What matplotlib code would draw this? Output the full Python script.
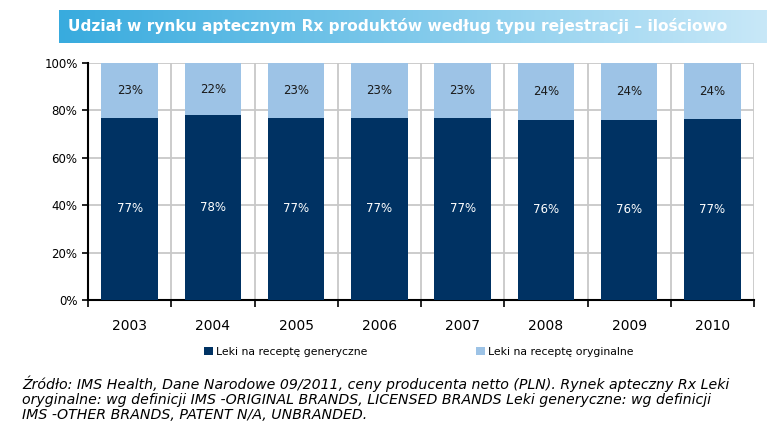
import numpy as np
import matplotlib.pyplot as plt
from matplotlib.ticker import FuncFormatter

years = ['2003', '2004', '2005', '2006', '2007', '2008', '2009', '2010']
generic = [77, 78, 77, 77, 77, 76, 76, 77]
original = [23, 22, 23, 23, 23, 24, 24, 24]

title = 'Udział w rynku aptecznym Rx produktów według typu rejestracji – ilościowo'
note = ('Źródło: IMS Health, Dane Narodowe 09/2011, ceny producenta netto (PLN). Rynek apteczny Rx Leki\n'
        'oryginalne: wg definicji IMS -ORIGINAL BRANDS, LICENSED BRANDS Leki generyczne: wg definicji\n'
        'IMS -OTHER BRANDS, PATENT N/A, UNBRANDED.')

dark = '#003263'
light = '#9dc3e6'

gen = np.array(generic, dtype=float)
orig = np.array(original, dtype=float)
total = gen + orig
gen_pct = gen / total * 100
orig_pct = orig / total * 100

fig = plt.figure(figsize=(7.67, 4.25), dpi=100)

# title banner with gradient
bax = fig.add_axes([59 / 767, 1 - 43 / 425, 1 - 59 / 767, 33 / 425])
grad = np.linspace(0, 1, 256).reshape(1, -1)
c0 = np.array([0x38, 0xab, 0xde]) / 255
c1 = np.array([0xc8, 0xe8, 0xf8]) / 255
img = c0[None, None, :] * (1 - grad[..., None]) + c1[None, None, :] * grad[..., None]
bax.imshow(img, aspect='auto', extent=[0, 1, 0, 1])
bax.set_axis_off()
bax.text(9 / 708, 0.5, title, color='white', fontsize=11.1, fontweight='bold',
         ha='left', va='center', transform=bax.transAxes)

ax = fig.add_axes([88 / 767, 1 - 300 / 425, (754 - 88) / 767, 237 / 425])
x = np.arange(len(years))
w = 0.68
ax.bar(x, gen_pct, w, color=dark, zorder=3, label='Leki na receptę generyczne')
ax.bar(x, orig_pct, w, bottom=gen_pct, color=light, zorder=3, label='Leki na receptę oryginalne')

for i in range(len(years)):
    ax.text(x[i], gen_pct[i] / 2, f'{generic[i]}%', color='white', ha='center', va='center',
            fontsize=8.5, zorder=4)
    ax.text(x[i], gen_pct[i] + orig_pct[i] / 2, f'{original[i]}%', color='#1a1a1a', ha='center',
            va='center', fontsize=8.5, zorder=4)

ax.set_xlim(-0.5, len(years) - 0.5)
ax.set_ylim(0, 100)
ax.set_yticks(np.arange(0, 101, 20))
ax.yaxis.set_major_formatter(FuncFormatter(lambda v, p: f'{v:.0f}%'))
ax.set_xticks(x)
ax.set_xticklabels(years, fontsize=10)
ax.set_xticks(np.arange(-0.5, len(years), 1), minor=True)
ax.tick_params(axis='x', which='major', length=0, pad=14)
ax.tick_params(axis='x', which='minor', length=5, width=1.2, color='black')
ax.tick_params(axis='y', labelsize=8.5, length=4, width=1.2)
ax.grid(axis='y', color='#c8c8c8', linewidth=1.3, zorder=0)
ax.grid(axis='x', which='minor', color='#c8c8c8', linewidth=1.3, zorder=0)
for s in ['top', 'right']:
    ax.spines[s].set_visible(False)
ax.spines['left'].set_linewidth(1.5)
ax.spines['bottom'].set_linewidth(1.5)

leg = fig.legend(loc='center', bbox_to_anchor=(419 / 767, 1 - 352 / 425), ncol=2, frameon=False,
                 fontsize=7.8, handlelength=0.8, handleheight=0.8, handletextpad=0.3,
                 columnspacing=10.0)

fig.text(22 / 767, 1 - 375 / 425, note, fontsize=10.15, fontstyle='italic', ha='left', va='top',
         linespacing=1.1, color='black')

fig.savefig('out.png', dpi=100)
